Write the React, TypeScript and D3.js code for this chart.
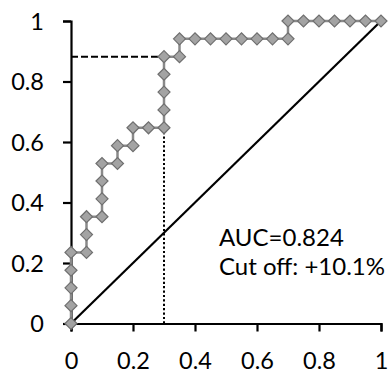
import React, { useEffect, useRef } from "react";
import * as d3 from "d3";

// ROC curve points (false positive rate, true positive rate)
const fpr = [
  0, 0, 0, 0, 0, 0.05, 0.05, 0.05, 0.1, 0.1, 0.1, 0.1, 0.15, 0.15, 0.2, 0.2,
  0.25, 0.3, 0.3, 0.3, 0.3, 0.3, 0.35, 0.35, 0.4, 0.45, 0.5, 0.55, 0.6, 0.65,
  0.7, 0.7, 0.75, 0.8, 0.85, 0.9, 0.95, 1,
];
const tpr = [
  0, 0.059, 0.118, 0.176, 0.235, 0.235, 0.294, 0.353, 0.353, 0.412, 0.471,
  0.529, 0.529, 0.588, 0.588, 0.647, 0.647, 0.647, 0.706, 0.765, 0.824, 0.882,
  0.882, 0.941, 0.941, 0.941, 0.941, 0.941, 0.941, 0.941, 0.941, 1, 1, 1, 1, 1,
  1, 1,
];
const cutFpr = 0.3;
const cutTpr = 0.882;
const xTicks = [0, 0.2, 0.4, 0.6, 0.8, 1];
const yTicks = [0, 0.2, 0.4, 0.6, 0.8, 1];
const notes = ["AUC=0.824", "Cut off: +10.1%"];

const font = "Lato, 'Open Sans', sans-serif";

function App() {
  const ref = useRef<SVGSVGElement>(null);

  useEffect(() => {
    const svg = d3.select(ref.current);
    svg.selectAll("*").remove();

    var x = d3.scaleLinear().domain([0, 1]).range([71, 381]);
    var y = d3.scaleLinear().domain([0, 1]).range([323.5, 21]);

    // axes
    var xAxis = svg
      .append("g")
      .attr("transform", "translate(0," + y(0) + ")")
      .call(d3.axisBottom(x).tickValues(xTicks).tickSize(8).tickPadding(14).tickFormat(d3.format("")));
    var yAxis = svg
      .append("g")
      .attr("transform", "translate(" + x(0) + ",0)")
      .call(d3.axisLeft(y).tickValues(yTicks).tickSize(8).tickPadding(19).tickFormat(d3.format("")));
    [xAxis, yAxis].forEach(function (g) {
      g.select(".domain").attr("stroke", "#000").attr("stroke-width", 2.2);
      g.selectAll(".tick line").attr("stroke", "#000").attr("stroke-width", 2.2);
      g.selectAll(".tick text")
        .attr("fill", "#000")
        .style("font-family", font)
        .style("font-size", "23.5px");
    });
    xAxis.selectAll(".tick text").attr("dy", "1em");
    yAxis.selectAll(".tick text").attr("dy", "0.36em");

    // chance diagonal
    svg
      .append("line")
      .attr("x1", x(0))
      .attr("y1", y(0))
      .attr("x2", x(1))
      .attr("y2", y(1))
      .attr("stroke", "#000")
      .attr("stroke-width", 2.2);

    // cut off guides
    svg
      .append("line")
      .attr("x1", x(0))
      .attr("y1", y(cutTpr))
      .attr("x2", x(cutFpr))
      .attr("y2", y(cutTpr))
      .attr("stroke", "#000")
      .attr("stroke-width", 2)
      .attr("stroke-dasharray", "7,3");
    svg
      .append("line")
      .attr("x1", x(cutFpr))
      .attr("y1", y(0))
      .attr("x2", x(cutFpr))
      .attr("y2", y(cutTpr))
      .attr("stroke", "#000")
      .attr("stroke-width", 2)
      .attr("stroke-dasharray", "2.2,2.2");

    // ROC curve
    var pts = fpr.map(function (f, i) {
      return [x(f), y(tpr[i])] as [number, number];
    });
    svg
      .append("path")
      .attr("d", d3.line()(pts))
      .attr("fill", "none")
      .attr("stroke", "#8a8a8a")
      .attr("stroke-width", 2.5);
    svg
      .selectAll("path.mark")
      .data(pts)
      .enter()
      .append("path")
      .attr("class", "mark")
      .attr("d", function (p) {
        return "M" + (p[0] - 6) + "," + p[1] + "L" + p[0] + "," + (p[1] - 6) +
          "L" + (p[0] + 6) + "," + p[1] + "L" + p[0] + "," + (p[1] + 6) + "Z";
      })
      .attr("fill", "#a3a3a3")
      .attr("stroke", "#6f6f6f")
      .attr("stroke-width", 1.2);

    // annotations
    svg
      .selectAll("text.note")
      .data(notes)
      .enter()
      .append("text")
      .attr("class", "note")
      .attr("x", 219)
      .attr("y", function (d, i) {
        return 246 + i * 29;
      })
      .style("font-family", font)
      .style("font-size", "24px")
      .attr("fill", "#000")
      .text(function (d) {
        return d;
      });
  }, []);

  return (
    <svg
      ref={ref}
      width={389}
      height={373}
      style={{ position: "absolute", left: 0, top: 0, background: "#fff" }}
    />
  );
}

export default App;
